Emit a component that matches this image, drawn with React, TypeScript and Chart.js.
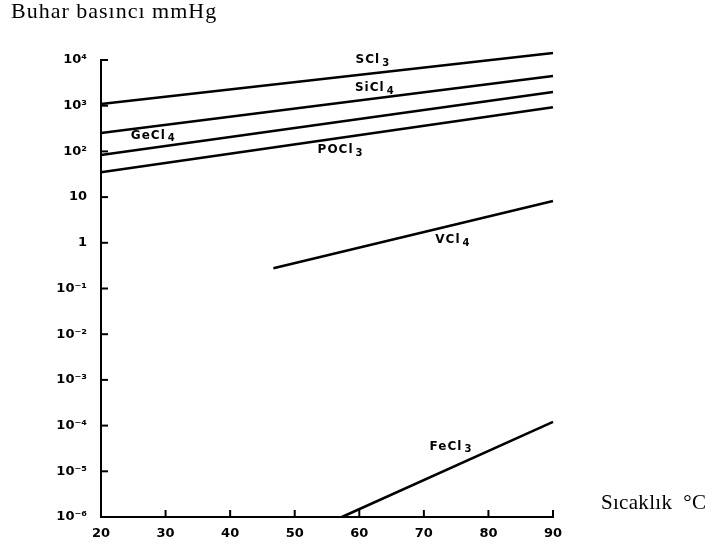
import React, { useEffect, useRef } from "react";
import { Chart, registerables } from "chart.js";

Chart.register(...registerables);

// Compounds (labels as printed on the chart)
const compounds = ["SCl₃", "SiCl₄", "GeCl₄", "POCl₃", "VCl₄", "FeCl₃"];
// Each line: start/end temperature (°C) and vapour pressure (mmHg)
const tempStart = [20, 20, 20, 20, 46.7, 57.3];
const tempEnd = [90, 90, 90, 90, 90, 90];
const pressureStart = [1090, 253, 83, 35, 0.277, 1e-6];
const pressureEnd = [14200, 4470, 2000, 930, 8.2, 1.2e-4];

// Where each compound name is written (data units)
const labelTemps = [62.1, 62.4, 28.1, 57.1, 74.5, 74.2];
const labelPressures = [1e4, 2450, 219, 107, 1.15, 3.5e-5];

const xTicks = [20, 30, 40, 50, 60, 70, 80, 90];
const yExponents = [4, 3, 2, 1, 0, -1, -2, -3, -4, -5, -6];
const yTickLabels = ["10⁴", "10³", "10²", "10", "1", "10⁻¹", "10⁻²", "10⁻³", "10⁻⁴", "10⁻⁵", "10⁻⁶"];

const TICK_FONT = { family: "'DejaVu Sans', sans-serif", size: 13, weight: "bold" as const };

const subDigits: Record<string, string> = { "₃": "3", "₄": "4" };

const decorPlugin = {
  id: "decor",
  afterDatasetsDraw(chart: any) {
    const { ctx, chartArea, scales } = chart;
    const xs = scales.x;
    const ys = scales.y;
    ctx.save();
    ctx.strokeStyle = "#000";
    ctx.lineWidth = 2;
    // inward y ticks
    yExponents.forEach((e) => {
      if (e === -6) return;
      const py = ys.getPixelForValue(Math.pow(10, e));
      ctx.beginPath();
      ctx.moveTo(chartArea.left, py);
      ctx.lineTo(chartArea.left + 7, py);
      ctx.stroke();
    });
    // inward x ticks
    xTicks.forEach((t) => {
      if (t === 20) return;
      const px = xs.getPixelForValue(t);
      ctx.beginPath();
      ctx.moveTo(px, chartArea.bottom);
      ctx.lineTo(px, chartArea.bottom - 7);
      ctx.stroke();
    });
    // compound labels: base text plus a lowered subscript digit
    ctx.fillStyle = "#000";
    ctx.textBaseline = "middle";
    ctx.textAlign = "left";
    compounds.forEach((name, i) => {
      const last = name.slice(-1);
      const base = subDigits[last] ? name.slice(0, -1) : name;
      const sub = subDigits[last] || "";
      const px = xs.getPixelForValue(labelTemps[i]);
      const py = ys.getPixelForValue(labelPressures[i]);
      ctx.font = "bold 12px 'DejaVu Sans', sans-serif";
      (ctx as any).letterSpacing = "1px";
      const wBase = ctx.measureText(base).width;
      ctx.font = "bold 10px 'DejaVu Sans', sans-serif";
      const wSub = ctx.measureText(sub).width;
      const x0 = px - (wBase + 2 + wSub) / 2;
      ctx.font = "bold 12px 'DejaVu Sans', sans-serif";
      ctx.fillText(base, x0, py);
      ctx.font = "bold 10px 'DejaVu Sans', sans-serif";
      ctx.fillText(sub, x0 + wBase + 2, py + 3);
    });
    (ctx as any).letterSpacing = "0px";
    ctx.restore();
  },
};

export default function App() {
  const canvasRef = useRef<HTMLCanvasElement | null>(null);

  useEffect(() => {
    if (!canvasRef.current) return;
    const datasets = compounds.map((name, i) => ({
      label: name,
      data: [
        { x: tempStart[i], y: pressureStart[i] },
        { x: tempEnd[i], y: pressureEnd[i] },
      ],
      borderColor: "#000",
      backgroundColor: "#000",
      borderWidth: 2.5,
      pointRadius: 0,
      fill: false,
      clip: false as any,
    }));

    const chart = new Chart(canvasRef.current, {
      type: "line",
      data: { datasets },
      options: {
        animation: false,
        responsive: false,
        devicePixelRatio: 1,
        layout: { padding: { left: 0, top: 60, right: 162, bottom: 0 } },
        plugins: {
          legend: { display: false },
          tooltip: { enabled: false },
          title: { display: false },
        },
        scales: {
          x: {
            type: "linear",
            min: 20,
            max: 90,
            grid: { display: false, drawTicks: false },
            border: { display: true, color: "#000", width: 2 },
            afterBuildTicks: (scale: any) => {
              scale.ticks = xTicks.map((v) => ({ value: v }));
            },
            afterFit: (scale: any) => {
              scale.height = 29;
            },
            ticks: {
              color: "#000",
              font: TICK_FONT,
              padding: 9,
              autoSkip: false,
              maxRotation: 0,
              callback: (v: any) => String(v),
            },
          },
          y: {
            type: "logarithmic",
            min: 1e-6,
            max: 1e4,
            grid: { display: false, drawTicks: false },
            border: { display: true, color: "#000", width: 2 },
            afterBuildTicks: (scale: any) => {
              scale.ticks = yExponents.map((e) => ({ value: Math.pow(10, e) }));
            },
            afterFit: (scale: any) => {
              scale.width = 101;
            },
            ticks: {
              color: "#000",
              font: TICK_FONT,
              padding: 14,
              autoSkip: false,
              callback: (v: any) => {
                const e = Math.round(Math.log10(Number(v)));
                const idx = yExponents.indexOf(e);
                return idx >= 0 ? yTickLabels[idx] : "";
              },
            },
          },
        },
      },
      plugins: [decorPlugin],
    });
    return () => chart.destroy();
  }, []);

  return (
    <div
      style={{
        position: "fixed",
        left: 0,
        top: 0,
        width: 715,
        height: 546,
        background: "#fff",
      }}
    >
      <canvas
        ref={canvasRef}
        width={715}
        height={546}
        style={{ position: "absolute", left: 0, top: 0, width: 715, height: 546 }}
      />
      <div
        style={{
          position: "absolute",
          left: 11,
          top: 0,
          fontFamily: "'Liberation Serif', 'Times New Roman', serif",
          fontSize: 22,
          lineHeight: "22px",
          letterSpacing: "1px",
          color: "#000",
          whiteSpace: "nowrap",
        }}
      >
        Buhar basıncı mmHg
      </div>
      <div
        style={{
          position: "absolute",
          left: 601,
          top: 492,
          fontFamily: "'Liberation Serif', 'Times New Roman', serif",
          fontSize: 21,
          lineHeight: "21px",
          letterSpacing: "0.3px",
          color: "#000",
          whiteSpace: "pre",
        }}
      >
        Sıcaklık  °C
      </div>
    </div>
  );
}
